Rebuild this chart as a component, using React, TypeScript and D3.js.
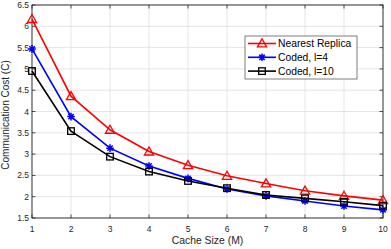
import React from "react";
import * as d3 from "d3";

const cacheSizes = [1, 2, 3, 4, 5, 6, 7, 8, 9, 10];
const nearestReplica = [6.17, 4.36, 3.57, 3.06, 2.74, 2.49, 2.31, 2.14, 2.02, 1.92];
const codedL4 = [5.47, 3.88, 3.14, 2.72, 2.43, 2.18, 2.02, 1.9, 1.78, 1.69];
const codedL10 = [4.95, 3.54, 2.94, 2.59, 2.37, 2.2, 2.04, 1.96, 1.88, 1.79];
const xTicks = [1, 2, 3, 4, 5, 6, 7, 8, 9, 10];
const yTicks = [1.5, 2, 2.5, 3, 3.5, 4, 4.5, 5, 5.5, 6, 6.5];
const seriesNames = ["Nearest Replica", "Coded, l=4", "Coded, l=10"];
const seriesColors = ["#ff0000", "#0000ff", "#000000"];
const seriesMarkers = ["triangle", "star", "square"];

const W = 391, H = 249;
const m = { left: 32, right: 8, top: 5, bottom: 31 };
const FONT = "'Liberation Sans', Arial, Helvetica, sans-serif";

function Marker({ type, x, y, color }: { type: string; x: number; y: number; color: string }) {
  if (type === "triangle") {
    const s = 4.6;
    return (
      <path
        d={`M${x},${y - s} L${x + s},${y + s * 0.75} L${x - s},${y + s * 0.75} Z`}
        fill="none" stroke={color} strokeWidth={1.3}
      />
    );
  }
  if (type === "square") {
    const s = 3.3;
    return <rect x={x - s} y={y - s} width={2 * s} height={2 * s} fill="none" stroke={color} strokeWidth={1.3} />;
  }
  const r = 3.8;
  const segs = [0, 45, 90, 135].map((a) => {
    const rad = (a * Math.PI) / 180;
    return `M${x - r * Math.cos(rad)},${y - r * Math.sin(rad)} L${x + r * Math.cos(rad)},${y + r * Math.sin(rad)}`;
  });
  return <path d={segs.join(" ")} stroke={color} strokeWidth={1.5} fill="none" />;
}

export default function App() {
  const x = d3.scaleLinear().domain([1, 10]).range([m.left, W - m.right]);
  const y = d3.scaleLinear().domain([1.5, 6.5]).range([H - m.bottom, m.top]);
  const line = d3
    .line<number>()
    .x((_, i) => x(cacheSizes[i]))
    .y((d) => y(d));
  const all = [nearestReplica, codedL4, codedL10];
  const axisColor = "#262626";
  const x0 = x(1), x1 = x(10), y0 = y(1.5), y1 = y(6.5);
  const tl = 3.5;

  const lgX = 245, lgY = 36, lgW = 112, lgH = 43;

  return (
    <svg width={W} height={H} style={{ position: "absolute", left: 0, top: 0, background: "#fff" }} fontFamily={FONT}>
      <rect x={0} y={0} width={W} height={H} fill="#fff" />
      {xTicks.map((t) => (
        <line key={"gx" + t} x1={x(t)} x2={x(t)} y1={y0} y2={y1} stroke="#dedede" strokeWidth={0.8} />
      ))}
      {yTicks.map((t) => (
        <line key={"gy" + t} x1={x0} x2={x1} y1={y(t)} y2={y(t)} stroke="#dedede" strokeWidth={0.8} />
      ))}
      {xTicks.map((t) => (
        <g key={"tx" + t}>
          <line x1={x(t)} x2={x(t)} y1={y0} y2={y0 - tl} stroke={axisColor} strokeWidth={0.8} />
          <line x1={x(t)} x2={x(t)} y1={y1} y2={y1 + tl} stroke={axisColor} strokeWidth={0.8} />
          <text x={x(t)} y={y0 + 13.5} textAnchor="middle" fontSize={8.5} fill={axisColor}>{t}</text>
        </g>
      ))}
      {yTicks.map((t) => (
        <g key={"ty" + t}>
          <line x1={x0} x2={x0 + tl} y1={y(t)} y2={y(t)} stroke={axisColor} strokeWidth={0.8} />
          <line x1={x1} x2={x1 - tl} y1={y(t)} y2={y(t)} stroke={axisColor} strokeWidth={0.8} />
          <text x={x0 - 3} y={y(t) + 3} textAnchor="end" fontSize={8.5} fill={axisColor}>{t}</text>
        </g>
      ))}
      <rect x={x0} y={y1} width={x1 - x0} height={y0 - y1} fill="none" stroke={axisColor} strokeWidth={0.9} />
      {all.map((s, k) => (
        <g key={"s" + k}>
          <path d={line(s) || ""} fill="none" stroke={seriesColors[k]} strokeWidth={1.6} />
          {s.map((v, i) => (
            <Marker key={i} type={seriesMarkers[k]} x={x(cacheSizes[i])} y={y(v)} color={seriesColors[k]} />
          ))}
        </g>
      ))}
      <text x={(x0 + x1) / 2} y={H - 5} textAnchor="middle" fontSize={10.4} fill={axisColor}>Cache Size (M)</text>
      <text transform={`translate(8.5,115) rotate(-90)`} textAnchor="middle" fontSize={10} fill={axisColor}>
        Communication Cost (C)
      </text>
      <rect x={lgX} y={lgY} width={lgW} height={lgH} fill="#fff" stroke={axisColor} strokeWidth={0.6} />
      {seriesNames.map((n, k) => {
        const ly = lgY + 7.5 + k * 13.8;
        return (
          <g key={"lg" + k}>
            <line x1={lgX + 3} x2={lgX + 31} y1={ly} y2={ly} stroke={seriesColors[k]} strokeWidth={1.6} />
            <Marker type={seriesMarkers[k]} x={lgX + 17} y={ly} color={seriesColors[k]} />
            <text x={lgX + 33} y={ly + 3.6} fontSize={10.3} fill="#000">{n}</text>
          </g>
        );
      })}
    </svg>
  );
}
